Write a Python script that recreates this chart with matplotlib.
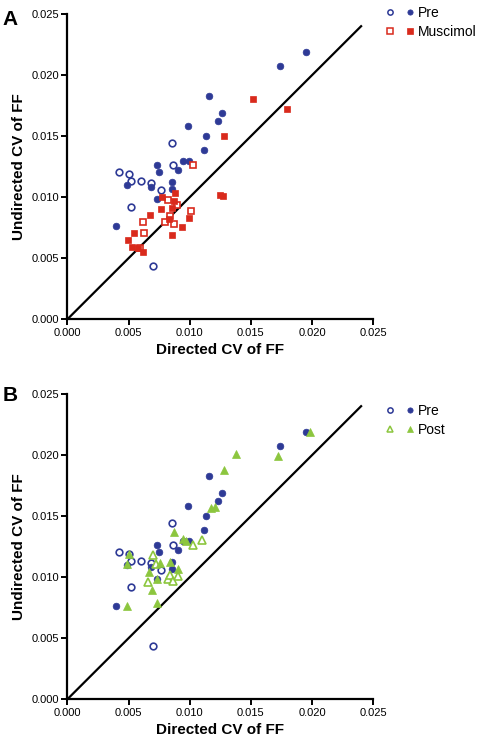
import matplotlib
matplotlib.use("Agg")
import matplotlib.pyplot as plt
from matplotlib.legend_handler import HandlerTuple
from matplotlib.lines import Line2D

plt.rcParams['font.family'] = ['Liberation Sans', 'DejaVu Sans']

# Pre (same in both panels)
pre_filled_x = [0.0195, 0.0174, 0.0116, 0.01261, 0.01234, 0.00989, 0.01133, 0.01114, 0.00942, 0.00997,
                0.0073, 0.00746, 0.00907, 0.00852, 0.00684, 0.00485, 0.00858, 0.0073, 0.00395]
pre_filled_y = [0.02186, 0.02071, 0.01826, 0.01689, 0.01627, 0.0158, 0.01501, 0.01384, 0.01299, 0.01299,
                0.01266, 0.01209, 0.01223, 0.01124, 0.01081, 0.01103, 0.01064, 0.00983, 0.00761]
pre_open_x = [0.00852, 0.0086, 0.00425, 0.00507, 0.0052, 0.00599, 0.00684, 0.00768, 0.0052, 0.007]
pre_open_y = [0.01441, 0.01261, 0.01209, 0.0119, 0.01133, 0.01133, 0.01116, 0.01062, 0.0092, 0.00437]

# Muscimol
mus_filled_x = [0.0152, 0.01795, 0.0128, 0.01247, 0.01269, 0.00882, 0.00776, 0.00874, 0.00763, 0.00855,
                0.00678, 0.00991, 0.00828, 0.0094, 0.00542, 0.00855, 0.00493, 0.00528, 0.00577, 0.00615]
mus_filled_y = [0.01807, 0.01722, 0.01498, 0.01015, 0.0101, 0.01034, 0.01002, 0.00972, 0.00906, 0.00912,
                0.00854, 0.0083, 0.00824, 0.00756, 0.00704, 0.0069, 0.00652, 0.0059, 0.00584, 0.00554]
mus_open_x = [0.0103, 0.00899, 0.00825, 0.01008, 0.00615, 0.00836, 0.00795, 0.00874, 0.00624, 0.00594]
mus_open_y = [0.01264, 0.00939, 0.00974, 0.00887, 0.008, 0.00846, 0.00794, 0.00783, 0.00707, 0.00581]

# Post
post_filled_x = [0.01983, 0.01718, 0.01375, 0.01283, 0.01206, 0.01171, 0.00874, 0.00942, 0.00972, 0.00507,
                 0.00757, 0.00842, 0.00488, 0.00667, 0.00901, 0.00735, 0.00692, 0.00733, 0.00485]
post_filled_y = [0.02191, 0.0199, 0.02009, 0.01878, 0.01578, 0.0157, 0.01367, 0.0131, 0.01299, 0.0119,
                 0.01119, 0.01127, 0.01105, 0.0104, 0.0107, 0.00985, 0.00892, 0.00791, 0.00761]
post_open_x = [0.00703, 0.01027, 0.01097, 0.00662, 0.0082, 0.00839, 0.0086, 0.00907, 0.00722]
post_open_y = [0.01184, 0.01266, 0.01302, 0.00961, 0.00982, 0.01018, 0.00969, 0.01007, 0.01105]

ticks = [0.000, 0.005, 0.010, 0.015, 0.020, 0.025]
diag = [0.0, 0.024]

BLUE = '#2e3a96'
RED = '#d92a1c'
GREEN = '#8cc63e'

fig = plt.figure(figsize=(4.96, 7.48), dpi=100)
axA = fig.add_axes([0.1357, 0.5731, 0.617, 0.4082])
axB = fig.add_axes([0.1357, 0.0651, 0.617, 0.4082])


def style(ax):
    ax.set_xlim(0, 0.025)
    ax.set_ylim(0, 0.025)
    ax.set_xticks(ticks)
    ax.set_yticks(ticks)
    ax.set_xticklabels([f"{t:.3f}" for t in ticks], fontsize=8)
    ax.set_yticklabels([f"{t:.3f}" for t in ticks], fontsize=8)
    for s in ['top', 'right']:
        ax.spines[s].set_visible(False)
    for s in ['left', 'bottom']:
        ax.spines[s].set_linewidth(1.6)
    ax.tick_params(direction='out', length=4, width=1.4, pad=2)
    ax.set_xlabel('Directed CV of FF', fontsize=11, fontweight='bold', labelpad=4)
    ax.set_ylabel('Undirected CV of FF', fontsize=11, fontweight='bold', labelpad=4)
    ax.plot(diag, diag, color='black', lw=1.6, zorder=1)


ms = 4.8
for ax in (axA, axB):
    style(ax)
    ax.plot(pre_open_x, pre_open_y, 'o', ms=ms, mfc='white', mec=BLUE, mew=1.2, ls='none', zorder=3)
    ax.plot(pre_filled_x, pre_filled_y, 'o', ms=ms, mfc=BLUE, mec=BLUE, mew=0.5, ls='none', zorder=3)

axA.plot(mus_open_x, mus_open_y, 's', ms=ms, mfc='white', mec=RED, mew=1.2, ls='none', zorder=4)
axA.plot(mus_filled_x, mus_filled_y, 's', ms=ms, mfc=RED, mec=RED, mew=0.5, ls='none', zorder=4)
axB.plot(post_open_x, post_open_y, '^', ms=ms + 0.8, mfc='white', mec=GREEN, mew=1.2, ls='none', zorder=4)
axB.plot(post_filled_x, post_filled_y, '^', ms=ms + 0.8, mfc=GREEN, mec=GREEN, mew=0.5, ls='none', zorder=4)


def leg_handles(marker, color, size):
    o = Line2D([], [], marker=marker, ms=size, mfc='white', mec=color, mew=1.1, ls='none')
    f = Line2D([], [], marker=marker, ms=size, mfc=color, mec=color, mew=0.5, ls='none')
    return (o, f)


pre_h = leg_handles('o', BLUE, 3.8)
axA.legend([pre_h, leg_handles('s', RED, 3.8)], ['Pre', 'Muscimol'],
           handler_map={tuple: HandlerTuple(ndivide=None, pad=0.8)},
           loc='upper left', bbox_to_anchor=(1.01, 1.057), frameon=False, fontsize=10,
           handlelength=2.0, handletextpad=0.3, labelspacing=0.35, borderpad=0.2)
axB.legend([pre_h, leg_handles('^', GREEN, 4.4)], ['Pre', 'Post'],
           handler_map={tuple: HandlerTuple(ndivide=None, pad=0.8)},
           loc='upper left', bbox_to_anchor=(1.01, 1.0), frameon=False, fontsize=10,
           handlelength=2.0, handletextpad=0.3, labelspacing=0.35, borderpad=0.2)

fig.text(0.006, 0.986, 'A', fontsize=15, fontweight='bold', va='top', ha='left')
fig.text(0.006, 0.484, 'B', fontsize=15, fontweight='bold', va='top', ha='left')

fig.savefig('out.png', dpi=100)
